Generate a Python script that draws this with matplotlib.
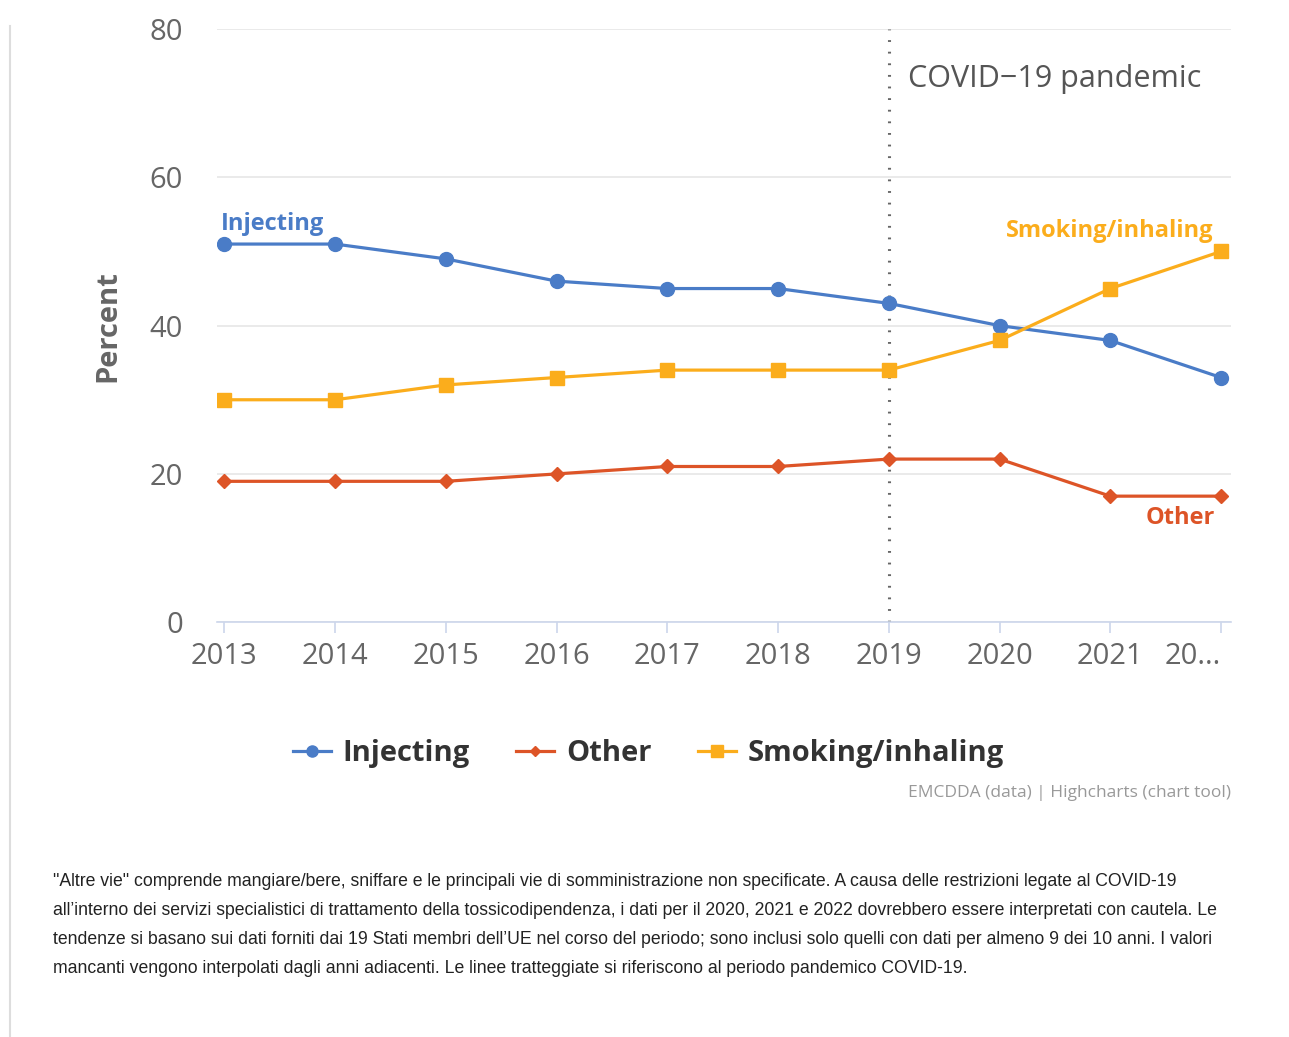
import matplotlib.pyplot as plt
import numpy as np

# 데이터
years = [2013, 2014, 2015, 2016, 2017, 2018, 2019, 2020, 2021, 2022]
year_labels = ['2013', '2014', '2015', '2016', '2017', '2018', '2019', '2020', '2021', '20...']
injecting = [51, 51, 49, 46, 45, 45, 43, 40, 38, 33]
other = [19, 19, 19, 20, 21, 21, 22, 22, 17, 17]
smoking = [30, 30, 32, 33, 34, 34, 34, 38, 45, 50]
y_ticks = [0, 20, 40, 60, 80]

c_inj = '#4a7cc7'
c_oth = '#dd5427'
c_smk = '#fbad1c'
font = 'Open Sans'

fig = plt.figure(figsize=(12.89, 10.37), dpi=100)
ax = fig.add_axes([0.168, 0.400, 0.787, 0.572])

l1, = ax.plot(years, injecting, '-o', color=c_inj, lw=2.3, ms=10, label='Injecting', zorder=4)
l2, = ax.plot(years, other, '-D', color=c_oth, lw=2.3, ms=7, label='Other', zorder=3)
l3, = ax.plot(years, smoking, '-s', color=c_smk, lw=2.3, ms=10, label='Smoking/inhaling', zorder=5)

# COVID-19 구분선
ax.axvline(2019, color='#666666', lw=2.2, ls=(0, (0.6, 3.2)), zorder=2)
ax.text(2019.17, 73.3, 'COVID\u221219 pandemic', fontsize=22, color='#555555',
        family=font, ha='left', va='center')

# 시리즈 라벨
ax.text(2012.97, 53.7, 'Injecting', fontsize=17, color=c_inj, weight='bold', family=font, va='center')
ax.text(2021.93, 52.7, 'Smoking/inhaling', fontsize=17, color=c_smk, weight='bold', family=font,
        ha='right', va='center')
ax.text(2021.95, 14.1, 'Other', fontsize=17, color=c_oth, weight='bold', family=font,
        ha='right', va='center')

ax.set_xlim(2012.93, 2022.09)
ax.set_ylim(0, 80)
ax.set_yticks(y_ticks)
ax.set_yticklabels([str(v) for v in y_ticks], fontsize=21, color='#666666', family=font)
ax.set_xticks(years)
ax.set_xticklabels(year_labels, fontsize=21, color='#666666', family=font)
ax.get_xticklabels()[-1].set_ha('right')
ax.grid(axis='y', color='#e6e6e6', lw=1.2)
ax.set_axisbelow(True)
for s in ['top', 'right', 'left']:
    ax.spines[s].set_visible(False)
ax.spines['bottom'].set_color('#ccd6eb')
ax.spines['bottom'].set_linewidth(1.2)
ax.tick_params(axis='y', length=0, pad=24)
ax.tick_params(axis='x', length=8, color='#ccd6eb', width=1.2, pad=6)
ax.set_ylabel('Percent', fontsize=21, color='#666666', weight='bold', family=font, labelpad=20)

fig.legend(handles=[l1, l2, l3], loc='center', bbox_to_anchor=(0.503, 0.273), ncol=3, frameon=False,
           prop={'family': font, 'size': 21, 'weight': 'bold'}, labelcolor='#333333',
           handlelength=1.3, handletextpad=0.4, columnspacing=1.6, markerscale=0.8)

fig.text(0.955, 0.235, 'EMCDDA (data) | Highcharts (chart tool)', fontsize=12.5, color='#999999',
         family=font, ha='right', va='center')

note = ('"Altre vie" comprende mangiare/bere, sniffare e le principali vie di somministrazione non specificate. '
        'A causa delle restrizioni legate al COVID-19\n'
        'all\u2019interno dei servizi specialistici di trattamento della tossicodipendenza, i dati per il 2020, '
        '2021 e 2022 dovrebbero essere interpretati con cautela. Le\n'
        'tendenze si basano sui dati forniti dai 19 Stati membri dell\u2019UE nel corso del periodo; sono inclusi '
        'solo quelli con dati per almeno 9 dei 10 anni. I valori\n'
        'mancanti vengono interpolati dagli anni adiacenti. Le linee tratteggiate si riferiscono al periodo '
        'pandemico COVID-19.')
fig.text(0.041, 0.158, note, fontsize=12.7, color='#222222', family='Liberation Sans',
         ha='left', va='top', linespacing=1.93)

# 왼쪽 테두리선
fig.add_artist(plt.Line2D([0.008, 0.008], [0.0, 0.975], color='#dddddd', lw=1.5))

fig.savefig('out.png', dpi=100)
